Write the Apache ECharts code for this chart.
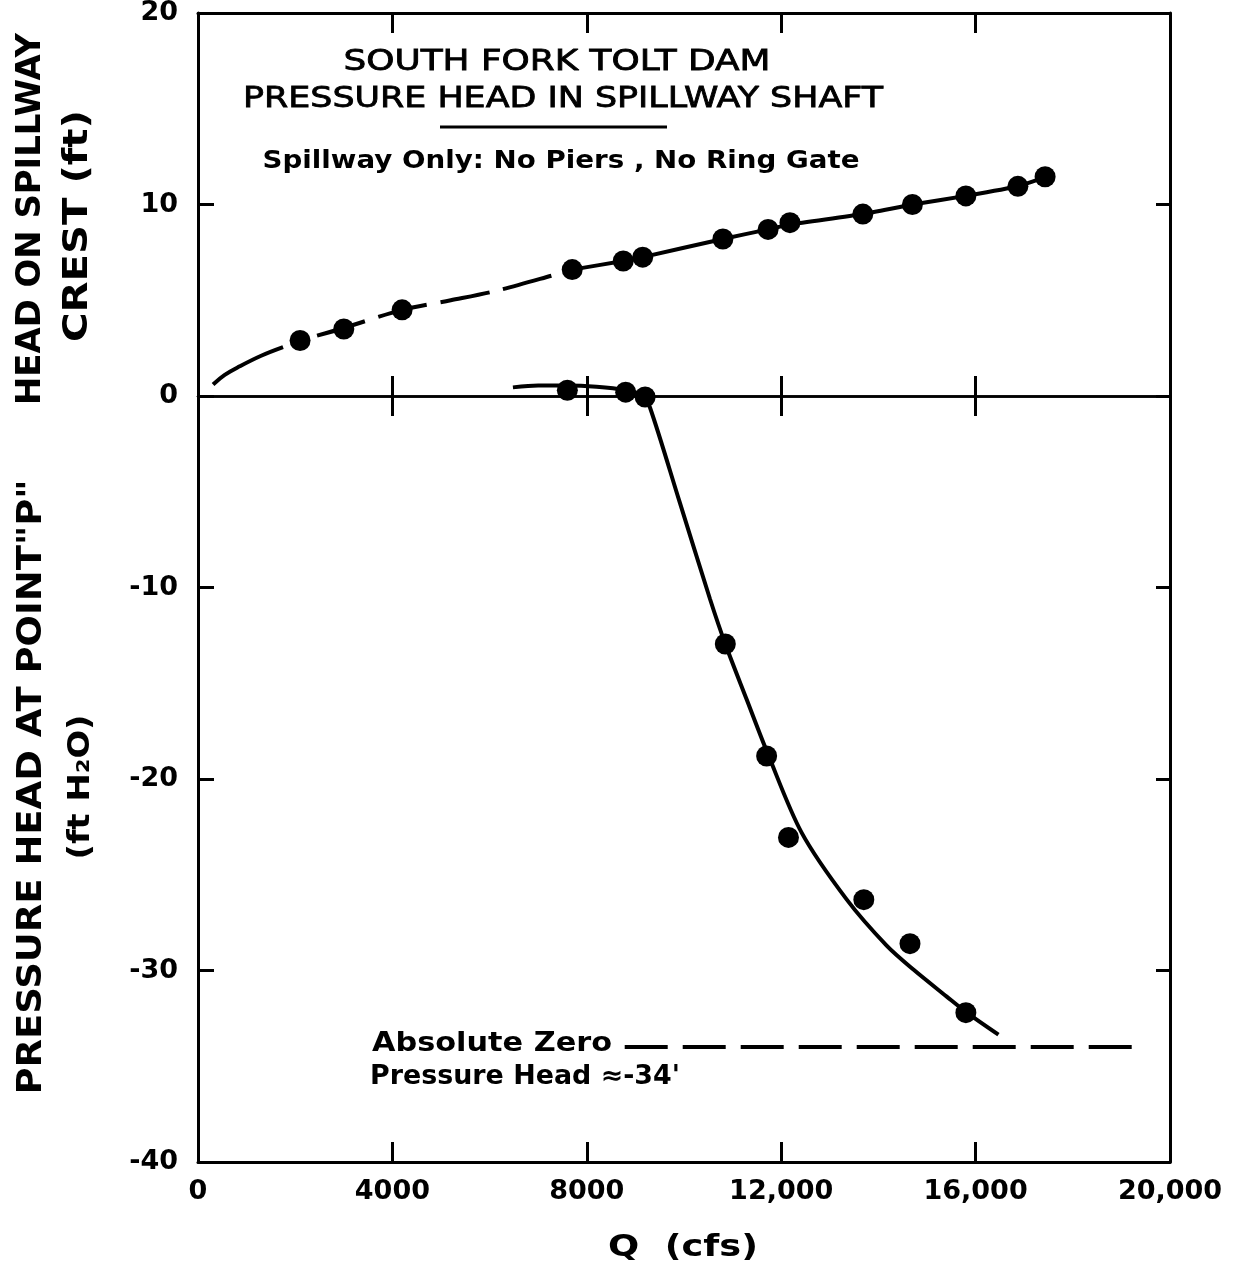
<!DOCTYPE html>
<html>
<head>
<meta charset="utf-8">
<title>South Fork Tolt Dam - Pressure Head in Spillway Shaft</title>
<script src="https://cdn.jsdelivr.net/npm/echarts@6/dist/echarts.min.js"></script>
<style>
  html, body { margin: 0; padding: 0; background: #fff; }
  #chart { width: 1233px; height: 1272px; }
</style>
</head>
<body>
<div id="chart"></div>
<script>
// ---- Measured head on spillway crest (ft) vs discharge Q (cfs)
const crestQ    = [2100, 3000, 4200, 7700, 8750, 9150, 10800, 11730, 12180, 13680, 14700, 15800, 16870, 17430];
const crestHead = [2.9, 3.5, 4.5, 6.6, 7.05, 7.25, 8.2, 8.7, 9.05, 9.5, 10.0, 10.45, 10.95, 11.45];

// ---- Faired rating curve for the crest head (solid / dashed / solid)
const crestCurveLowQ  = [310, 550, 860, 1300, 1750];
const crestCurveLowH  = [0.6, 1.1, 1.55, 2.1, 2.55];
const crestCurveDashQ = [2450, 3000, 4200, 5200, 6150, 7300, 7700];
const crestCurveDashH = [3.15, 3.55, 4.5, 5.0, 5.5, 6.3, 6.6];
const crestCurveHighQ = [7700, 8750, 9150, 10800, 11730, 12180, 13680, 14700, 15800, 16870, 17450];
const crestCurveHighH = [6.6, 7.05, 7.25, 8.2, 8.7, 8.95, 9.5, 10.0, 10.45, 10.95, 11.45];

// ---- Measured pressure head at point "P" (ft H2O)
const pointQ = [7600, 8800, 9200, 10850, 11700, 12150, 13700, 14650, 15800];
const pointP = [0.3, 0.2, -0.05, -12.95, -18.8, -23.05, -26.3, -28.6, -32.2];

// ---- Faired curve through the pressure head
const pressCurveQ = [6480, 7000, 7600, 8200, 8800, 9150, 9300, 9900, 10535, 10850, 11290, 11735, 12420, 13350, 14170, 14720, 15400, 15820, 16470];
const pressCurveP = [0.45, 0.55, 0.55, 0.48, 0.3, 0.05, -0.6, -5.45, -10.6, -12.95, -15.85, -18.75, -22.8, -26.3, -28.7, -29.95, -31.35, -32.2, -33.35];

// ---- Absolute zero pressure head
const absZeroQ = [8780, 19250];
const absZeroHead = -34;

// ---- Axis ticks and labels
const qTicks  = [0, 4000, 8000, 12000, 16000, 20000];
const qLabels = ['0', '4000', '8000', '12,000', '16,000', '20,000'];
const hTicks  = [20, 10, 0, -10, -20, -30, -40];
const hLabels = ['20', '10', '0', '-10', '-20', '-30', '-40'];

const pairs = (xs, ys) => xs.map((x, i) => [x, Array.isArray(ys) ? ys[i] : ys]);
const lookup = (ticks, labels) => v => { const i = ticks.indexOf(v); return i < 0 ? '' : labels[i]; };

const FONT = '"DejaVu Sans", sans-serif';
const INK = '#000';

// stretch a text horizontally so that it spans a given width
const measureCtx = document.createElement('canvas').getContext('2d');
function stretch(text, font, width) {
  measureCtx.font = font;
  return width / measureCtx.measureText(text).width;
}
function label(text, weight, size, x, y, width, opts) {
  const font = weight + ' ' + size + 'px ' + FONT;
  const o = opts || {};
  const align = o.align || 'center';
  const style = {
    text: text, font: font, fill: INK,
    textAlign: align, textVerticalAlign: 'middle',
    align: align, verticalAlign: 'middle'
  };
  if (o.outline) { style.stroke = INK; style.lineWidth = o.outline; }
  return {
    type: 'text',
    x: x, y: y,
    rotation: o.rotation || 0,
    scaleX: stretch(text, font, width),
    silent: true,
    style: style
  };
}

const tickStyle = { color: INK, width: 3 };
const frameLine = { color: INK, width: 3 };
const tickFont = { color: INK, fontFamily: FONT, fontWeight: 'bold', fontSize: 27 };

function qAxis(position, extra) {
  return Object.assign({
    type: 'value', position: position, min: 0, max: 20000, interval: 4000,
    axisLine: { show: true, onZero: false, lineStyle: frameLine },
    axisTick: { show: true, inside: true, length: 20, lineStyle: tickStyle },
    axisLabel: { show: false },
    splitLine: { show: false }
  }, extra);
}
function hAxis(position, extra) {
  return Object.assign({
    type: 'value', position: position, min: -40, max: 20, interval: 10,
    axisLine: { show: true, onZero: false, lineStyle: frameLine },
    axisTick: { show: true, inside: true, length: 16, lineStyle: tickStyle },
    axisLabel: { show: false },
    splitLine: { show: false }
  }, extra);
}

const curveLine = { color: INK, width: 4 };
const dotStyle = { color: INK, opacity: 1 };

const option = {
  animation: false,
  backgroundColor: '#fff',
  grid: { left: 198, top: 13, width: 972, height: 1149, outerBoundsMode: 'none', containLabel: false },
  xAxis: [
    qAxis('bottom', {
      axisLabel: Object.assign({ show: true, margin: 16, formatter: lookup(qTicks, qLabels) }, tickFont)
    }),
    qAxis('top'),
    // zero line with ticks crossing it
    qAxis('bottom', {
      axisLine: { show: true, onZero: true, onZeroAxisIndex: 0, lineStyle: { color: INK, width: 2.5 } },
      axisTick: { show: true, inside: true, length: 20, lineStyle: tickStyle }
    }),
    qAxis('bottom', {
      axisLine: { show: true, onZero: true, onZeroAxisIndex: 0, lineStyle: { color: INK, width: 2.5 } },
      axisTick: { show: true, inside: false, length: 20, lineStyle: tickStyle }
    })
  ],
  yAxis: [
    hAxis('left', {
      axisLabel: Object.assign({ show: true, margin: 20, formatter: lookup(hTicks, hLabels) }, tickFont)
    }),
    hAxis('right', { axisTick: { show: true, inside: true, length: 14, lineStyle: tickStyle } })
  ],
  series: [
    { type: 'line', data: pairs(crestCurveLowQ, crestCurveLowH), smooth: 0.4, symbol: 'none', lineStyle: curveLine, silent: true },
    { type: 'line', data: pairs(crestCurveDashQ, crestCurveDashH), smooth: 0.3, symbol: 'none',
      lineStyle: Object.assign({ type: [50, 14] }, curveLine), silent: true },
    { type: 'line', data: pairs(crestCurveHighQ, crestCurveHighH), smooth: 0.2, symbol: 'none', lineStyle: curveLine, silent: true },
    { type: 'line', data: pairs(pressCurveQ, pressCurveP), smooth: 0.3, symbol: 'none', lineStyle: curveLine, silent: true },
    { type: 'line', data: pairs(absZeroQ, absZeroHead), symbol: 'none',
      lineStyle: { color: INK, width: 4, type: [43, 15] }, silent: true },
    { type: 'scatter', data: pairs(crestQ, crestHead), symbol: 'circle', symbolSize: 21,
      itemStyle: dotStyle, silent: true, z: 5 },
    { type: 'scatter', data: pairs(pointQ, pointP), symbol: 'circle', symbolSize: 21,
      itemStyle: dotStyle, silent: true, z: 5 }
  ],
  graphic: [
    label('SOUTH FORK TOLT DAM', 'normal', 29, 557, 62, 427, { outline: 0.8 }),
    label('PRESSURE HEAD IN SPILLWAY SHAFT', 'normal', 29, 563, 99, 640, { outline: 0.8 }),
    { type: 'line', silent: true, shape: { x1: 440, y1: 127, x2: 667, y2: 127 }, style: { stroke: INK, lineWidth: 3 } },
    label('Spillway Only: No Piers , No Ring Gate', 'bold', 25, 561, 161, 597),
    label('Absolute Zero', 'bold', 26, 372, 1044, 240, { align: 'left' }),
    label('Pressure Head \u2248-34\'', 'bold', 26, 370, 1077, 310, { align: 'left' }),
    label('HEAD ON SPILLWAY', 'bold', 33, 31, 219, 372, { rotation: Math.PI / 2 }),
    label('CREST (ft)', 'bold', 33, 78, 226, 232, { rotation: Math.PI / 2 }),
    label('PRESSURE HEAD AT POINT"P"', 'bold', 33, 32, 787, 615, { rotation: Math.PI / 2 }),
    label('(ft H\u2082O)', 'bold', 30, 81, 787, 145, { rotation: Math.PI / 2 }),
    label('Q  (cfs)', 'bold', 30, 683, 1248, 150)
  ]
};

const chart = echarts.init(document.getElementById('chart'), null, { renderer: 'canvas' });
chart.setOption(option);
</script>
</body>
</html>
